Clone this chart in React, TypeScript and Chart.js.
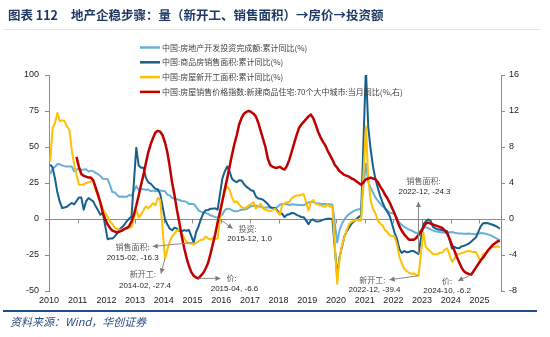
import React, { useEffect, useRef } from "react";
import { Chart, registerables } from "chart.js";

Chart.register(...registerables);

// ---------- data ----------
const YEARS = [2010, 2011, 2012, 2013, 2014, 2015, 2016, 2017, 2018, 2019, 2020, 2021, 2022, 2023, 2024, 2025];
const PRICE_YEARS = [2011, 2012, 2013, 2014, 2015, 2016, 2017, 2018, 2019, 2020, 2021, 2022, 2023, 2024, 2025];
const X_TICKS = [2010, 2011, 2012, 2013, 2014, 2015, 2016, 2017, 2018, 2019, 2020, 2021, 2022, 2023, 2024, 2025];
const LEFT_TICKS = [-50, -25, 0, 25, 50, 75, 100];
const RIGHT_TICKS = [-8, -4, 0, 4, 8, 12, 16];

const SERIES_NAMES = [
  "中国:房地产开发投资完成额:累计同比(%)",
  "中国:商品房销售面积:累计同比(%)",
  "中国:房屋新开工面积:累计同比(%)",
  "中国:房屋销售价格指数:新建商品住宅:70个大中城市:当月同比(%,右)",
];

// cumulative YoY, Feb..Dec of each year (2025: Feb..Oct)
const INVESTMENT = [
  [31.1, 35.1, 36.2, 38.2, 38.1, 37.2, 36.7, 36.4, 36.5, 36.5, 33.2],
  [35.2, 34.1, 34.3, 34.6, 32.9, 33.6, 33.2, 32.0, 31.1, 29.9, 27.9],
  [27.8, 23.5, 18.7, 18.5, 16.6, 15.4, 15.6, 15.4, 15.4, 16.7, 16.2],
  [22.8, 20.2, 21.1, 20.6, 20.3, 20.5, 19.3, 19.7, 19.2, 19.5, 19.8],
  [19.3, 16.8, 16.4, 14.7, 14.1, 13.7, 13.2, 12.5, 12.4, 11.9, 10.5],
  [10.4, 8.5, 6.0, 5.1, 4.6, 4.3, 3.5, 2.6, 2.0, 1.3, 1.0],
  [3.0, 6.2, 7.2, 7.0, 6.1, 5.3, 5.4, 5.8, 6.6, 6.5, 6.9],
  [8.9, 9.1, 9.3, 8.8, 8.5, 7.9, 7.9, 8.1, 7.8, 7.5, 7.0],
  [9.9, 10.4, 10.3, 10.2, 9.7, 10.2, 10.1, 9.9, 9.7, 9.7, 9.5],
  [11.6, 11.8, 11.9, 11.2, 10.9, 10.6, 10.5, 10.5, 10.3, 10.2, 9.9],
  [-16.3, -7.7, -3.3, -0.3, 1.9, 3.4, 4.6, 5.6, 6.3, 6.8, 7.0],
  [38.3, 25.6, 21.6, 18.3, 15.0, 12.7, 10.9, 8.8, 7.2, 6.0, 4.4],
  [3.7, 0.7, -2.7, -4.0, -5.4, -6.4, -7.4, -8.0, -8.8, -9.8, -10.0],
  [-5.7, -5.8, -6.2, -7.2, -7.9, -8.5, -8.8, -9.1, -9.3, -9.4, -9.6],
  [-9.0, -9.5, -9.8, -10.1, -10.1, -10.2, -10.2, -10.1, -10.3, -10.4, -10.6],
  [-9.8, -9.9, -10.3, -10.7, -11.2, -12.0, -12.9, -13.9, -14.7],
];

const SALES_AREA = [
  [37.7, 35.8, 28.1, 18.5, 12.0, 7.6, 8.0, 8.5, 9.9, 11.1, 10.1],
  [14.9, 14.9, 6.5, 12.2, 14.6, 13.4, 12.2, 8.8, 6.0, 3.0, 4.4],
  [-14.0, -13.6, -13.5, -12.1, -10.0, -7.1, -5.8, -4.0, -1.6, 0.2, 1.8],
  [49.5, 37.1, 35.6, 35.6, 28.7, 25.4, 24.6, 22.7, 20.9, 20.7, 17.3],
  [-0.1, -3.8, -6.7, -7.8, -6.0, -6.7, -8.3, -8.6, -7.7, -8.2, -7.6],
  [-16.3, -9.2, -5.3, -0.2, 3.9, 6.1, 6.2, 7.2, 7.2, 7.4, 6.5],
  [28.2, 33.1, 36.5, 33.2, 27.9, 26.4, 25.5, 26.9, 26.8, 24.3, 22.5],
  [20.0, 19.5, 15.7, 14.3, 14.0, 13.4, 12.0, 10.3, 8.2, 7.9, 7.7],
  [4.1, 3.6, 1.3, 2.9, 3.3, 4.2, 4.0, 2.9, 2.2, 1.4, 1.3],
  [-3.6, -0.9, -0.3, -1.6, -1.8, -1.3, -0.6, -0.1, 0.1, 0.2, -0.1],
  [-39.9, -26.3, -19.3, -12.3, -8.4, -5.8, -3.3, -1.8, 0.0, 1.3, 2.6],
  [104.9, 63.8, 48.1, 36.3, 27.7, 21.5, 15.9, 11.3, 7.6, 4.8, 1.9],
  [-9.6, -13.8, -20.9, -23.6, -22.2, -23.1, -23.0, -22.2, -22.3, -23.3, -24.3],
  [-3.6, -1.8, -0.4, -0.9, -5.3, -6.5, -7.1, -7.5, -7.8, -8.0, -8.5],
  [-20.5, -19.4, -20.2, -20.3, -19.0, -18.6, -18.0, -17.1, -15.8, -14.3, -12.9],
  [-5.1, -3.0, -2.8, -2.9, -3.5, -4.0, -4.7, -5.5, -6.8],
];

const NEW_STARTS = [
  [40.0, 63.0, 66.7, 73.6, 68.0, 68.5, 68.0, 64.3, 62.0, 48.0, 38.0],
  [24.0, 23.7, 24.0, 25.0, 25.5, 26.0, 26.7, 20.0, 15.7, 11.5, 7.0],
  [1.5, -1.5, -3.5, -6.0, -7.0, -7.4, -7.4, -7.2, -6.8, -6.3, -5.5],
  [6.5, 1.0, 3.0, 6.0, 8.8, 7.5, 9.0, 11.0, 9.5, 14.6, 13.5],
  [-27.4, -21.3, -15.5, -12.0, -10.0, -8.0, -7.4, -9.7, -13.0, -16.0, -16.7],
  [-17.8, -16.5, -15.5, -14.4, -14.4, -12.2, -13.5, -14.4, -13.0, -14.0, -13.5],
  [13.7, 19.2, 22.6, 20.3, 15.0, 11.6, 12.3, 10.0, 8.2, 7.6, 8.1],
  [10.4, 11.6, 7.2, 8.8, 10.6, 7.3, 6.4, 5.9, 5.6, 6.2, 7.0],
  [2.9, 9.7, 10.8, 11.8, 11.8, 14.4, 15.5, 16.4, 16.3, 16.8, 17.2],
  [6.0, 11.9, 13.1, 10.5, 10.1, 9.5, 8.9, 8.6, 10.0, 8.6, 8.5],
  [-44.9, -27.2, -18.4, -12.8, -7.6, -3.6, -1.9, -1.4, -0.4, -1.0, -1.2],
  [64.3, 28.2, 12.8, 6.9, 3.8, -0.9, -3.2, -4.5, -7.7, -9.1, -11.4],
  [-12.2, -17.5, -26.3, -30.6, -34.4, -36.1, -37.2, -38.0, -37.8, -38.9, -39.4],
  [-9.4, -19.2, -21.2, -22.6, -24.3, -24.5, -24.4, -23.4, -23.2, -21.2, -20.4],
  [-29.7, -27.8, -24.6, -24.2, -23.7, -23.2, -22.5, -22.2, -22.6, -23.0, -23.0],
  [-29.6, -24.4, -23.8, -22.8, -20.0, -19.4, -19.5, -18.9, -19.8],
];

// monthly YoY, Jan..Dec (2025: Jan..Oct), right axis
const PRICE = [
  [6.9, 5.8, 5.0, 4.8, 4.7, 4.6, 4.6, 4.3, 3.5, 2.7, 1.8, 0.7],
  [0.0, -0.6, -1.0, -1.3, -1.4, -1.5, -1.4, -1.3, -1.1, -1.0, -0.8, -0.3],
  [0.5, 1.5, 2.6, 3.8, 4.9, 6.2, 7.4, 8.3, 9.0, 9.6, 9.8, 9.7],
  [9.3, 8.5, 7.4, 5.8, 4.0, 2.6, 1.0, -0.4, -1.9, -3.2, -4.3, -5.2],
  [-5.9, -6.3, -6.5, -6.6, -6.3, -6.0, -5.5, -4.9, -3.9, -2.8, -1.7, -0.4],
  [0.8, 2.0, 3.3, 4.5, 5.8, 7.1, 8.3, 9.3, 10.5, 11.2, 11.7, 11.9],
  [12.0, 11.9, 11.7, 11.4, 10.7, 9.8, 8.9, 8.0, 6.7, 6.0, 5.8, 5.7],
  [5.7, 5.8, 5.6, 5.5, 5.9, 6.6, 7.5, 8.4, 9.3, 10.1, 10.5, 10.8],
  [11.1, 11.4, 11.6, 11.2, 10.5, 9.7, 9.1, 8.6, 8.2, 7.6, 7.1, 6.6],
  [6.0, 5.7, 5.3, 5.1, 4.9, 4.8, 4.7, 4.5, 4.4, 4.2, 4.0, 3.8],
  [4.1, 4.4, 4.5, 4.6, 4.5, 4.4, 4.1, 3.6, 3.2, 2.7, 2.3, 1.8],
  [1.2, 0.6, -0.1, -0.8, -1.3, -1.7, -2.0, -2.3, -2.3, -2.3, -2.1, -1.8],
  [-1.4, -1.0, -0.5, -0.4, -0.5, -0.6, -0.7, -0.8, -0.9, -1.0, -1.3, -1.6],
  [-2.2, -2.9, -3.5, -4.2, -4.8, -5.4, -5.8, -6.0, -6.1, -6.2, -5.8, -5.4],
  [-5.0, -4.6, -4.3, -3.9, -3.5, -3.2, -2.9, -2.7, -2.5, -2.4],
];

// annotations: [year, month], value, axis, name
const ANNOTATIONS = [
  { ym: [2015, 2], value: -16.3, axis: "y", name: "销售面积:", tip: [-41, 4], t1: [-3, 0, "right"], t2: [-20, 11] },
  { ym: [2014, 2], value: -27.4, axis: "y", name: "新开工:", tip: [-4, 15], t1: [-5, 0, "right"], t2: [-16, 12] },
  { ym: [2015, 4], value: -6.6, axis: "y1", name: "价:", tip: [22, 0], t1: [6, 0, "left"], t2: [14, 10] },
  { ym: [2015, 12], value: 1.0, axis: "y", name: "投资:", tip: [15, 11], t1: [6, 0, "left"], t2: [17, 10] },
  { ym: [2022, 12], value: -24.3, axis: "y", name: "销售面积:", tip: [0, -52], t1: [5, -21, "center"], t2: [6, -10] },
  { ym: [2022, 12], value: -39.4, axis: "y", name: "新开工:", tip: [-29, 4], t1: [-4, 0, "right"], t2: [-15, 10] },
  { ym: [2024, 10], value: -6.2, axis: "y1", name: "价:", tip: [-13, 6], t1: [-6, 0, "right"], t2: [-11, 10] },
];

// ---------- styles ----------
const COLORS = ["#6aafd6", "#17608c", "#ffc000", "#c00000"];
const CJK = "'Noto Sans CJK SC', sans-serif";
const LATIN = "'Liberation Sans', Arial, sans-serif";

const monthX = (year: number, month: number) => year + (month - 1.5) / 12;

function cumPoints(rows: number[][]) {
  const pts: { x: number; y: number }[] = [];
  rows.forEach((row, i) => row.forEach((v, j) => pts.push({ x: monthX(YEARS[i], j + 2), y: v })));
  return pts;
}
function pricePoints(rows: number[][]) {
  const pts: { x: number; y: number }[] = [];
  rows.forEach((row, i) => row.forEach((v, j) => pts.push({ x: monthX(PRICE_YEARS[i], j + 1), y: v })));
  return pts;
}

const decorPlugin = {
  id: "decor",
  beforeDraw(chart: any) {
    const ctx = chart.ctx;
    ctx.save();
    ctx.fillStyle = "#ffffff";
    ctx.fillRect(0, 0, chart.width, chart.height);
    ctx.restore();
  },
  beforeDatasetsDraw(chart: any) {
    const { ctx, chartArea, scales } = chart;
    const y0 = Math.round(scales.y.getPixelForValue(0)) + 0.5;
    ctx.save();
    ctx.strokeStyle = "#8c8c8c";
    ctx.lineWidth = 1;
    ctx.beginPath();
    ctx.moveTo(chartArea.left, y0);
    ctx.lineTo(chartArea.right, y0);
    X_TICKS.forEach((t) => {
      const x = Math.round(scales.x.getPixelForValue(t)) + 0.5;
      ctx.moveTo(x, y0);
      ctx.lineTo(x, y0 + 4);
    });
    ctx.stroke();
    // x labels
    ctx.fillStyle = "#222";
    ctx.font = `9px ${LATIN}`;
    ctx.textAlign = "center";
    ctx.textBaseline = "middle";
    X_TICKS.forEach((t) => {
      ctx.fillText(String(t), scales.x.getPixelForValue(t), chartArea.bottom + 10);
    });
    ctx.restore();
  },
  afterDatasetsDraw(chart: any) {
    const { ctx, scales } = chart;
    ctx.save();
    ANNOTATIONS.forEach((a: any) => {
      const px = scales.x.getPixelForValue(monthX(a.ym[0], a.ym[1]));
      const py = scales[a.axis].getPixelForValue(a.value);
      const tx = px + a.tip[0];
      const ty = py + a.tip[1];
      ctx.strokeStyle = "#8a8a8a";
      ctx.fillStyle = "#7a7a7a";
      ctx.lineWidth = 1;
      ctx.beginPath();
      ctx.moveTo(px, py);
      ctx.lineTo(tx, ty);
      ctx.stroke();
      const ang = Math.atan2(ty - py, tx - px);
      const L = 5, W = 2.6;
      ctx.beginPath();
      ctx.moveTo(tx, ty);
      ctx.lineTo(tx - L * Math.cos(ang) + W * Math.sin(ang), ty - L * Math.sin(ang) - W * Math.cos(ang));
      ctx.lineTo(tx - L * Math.cos(ang) - W * Math.sin(ang), ty - L * Math.sin(ang) + W * Math.cos(ang));
      ctx.closePath();
      ctx.fill();
      ctx.textBaseline = "middle";
      ctx.font = `8px ${CJK}`;
      ctx.fillStyle = "#595959";
      ctx.textAlign = a.t1[2];
      ctx.fillText(a.name, tx + a.t1[0], ty + a.t1[1]);
      const mm = String(a.ym[1]).padStart(2, "0");
      ctx.font = `8px ${LATIN}`;
      ctx.fillStyle = "#262626";
      ctx.textAlign = "center";
      ctx.fillText(`${a.ym[0]}-${mm}, ${a.value.toFixed(1)}`, tx + a.t2[0], ty + a.t2[1]);
    });
    ctx.restore();
  },
  afterDraw(chart: any) {
    const ctx = chart.ctx;
    ctx.save();
    // title
    ctx.textBaseline = "middle";
    ctx.textAlign = "left";
    ctx.fillStyle = "#1f3864";
    ctx.font = `bold 12.5px ${CJK}`;
    ctx.fillText("图表 112", 8, 15);
    ctx.fillText("地产企稳步骤：量（新开工、销售面积）→房价→投资额", 71, 15);
    // thin rule below title
    ctx.strokeStyle = "#e3e3e3";
    ctx.lineWidth = 1;
    ctx.beginPath();
    ctx.moveTo(4, 29.5);
    ctx.lineTo(540, 29.5);
    ctx.stroke();
    // legend
    const rowY = [47.5, 62.3, 77.1, 91.9];
    SERIES_NAMES.forEach((name, i) => {
      ctx.strokeStyle = COLORS[i];
      ctx.lineWidth = 2.5;
      ctx.beginPath();
      ctx.moveTo(140, rowY[i]);
      ctx.lineTo(160, rowY[i]);
      ctx.stroke();
      ctx.fillStyle = "#404040";
      ctx.font = `8px ${CJK}`;
      ctx.fillText(name, 162, rowY[i]);
    });
    // bottom rule
    ctx.strokeStyle = "#1f4e8c";
    ctx.lineWidth = 2;
    ctx.beginPath();
    ctx.moveTo(3, 311);
    ctx.lineTo(537, 311);
    ctx.stroke();
    // footer
    ctx.fillStyle = "#2f4f80";
    ctx.font = `italic 11px ${CJK}`;
    ctx.fillText("资料来源：Wind，华创证券", 10, 322);
    ctx.restore();
  },
};

export default function App() {
  const ref = useRef<HTMLCanvasElement | null>(null);

  useEffect(() => {
    if (!ref.current) return;
    const tickFont = { family: LATIN, size: 9 };
    const chart = new Chart(ref.current, {
      type: "line",
      data: {
        datasets: [
          { label: SERIES_NAMES[0], data: cumPoints(INVESTMENT), borderColor: COLORS[0], borderWidth: 2, pointRadius: 0, yAxisID: "y", order: 4 },
          { label: SERIES_NAMES[1], data: cumPoints(SALES_AREA), borderColor: COLORS[1], borderWidth: 2, pointRadius: 0, yAxisID: "y", order: 3 },
          { label: SERIES_NAMES[2], data: cumPoints(NEW_STARTS), borderColor: COLORS[2], borderWidth: 2, pointRadius: 0, yAxisID: "y", order: 2 },
          { label: SERIES_NAMES[3], data: pricePoints(PRICE), borderColor: COLORS[3], borderWidth: 2.5, pointRadius: 0, yAxisID: "y1", order: 1 },
        ],
      },
      options: {
        responsive: false,
        animation: false,
        devicePixelRatio: 1,
        layout: { padding: { top: 75, left: 0, right: 0, bottom: 0 } },
        plugins: { legend: { display: false }, tooltip: { enabled: false } },
        elements: { line: { tension: 0, borderJoinStyle: "round" } },
        scales: {
          x: {
            type: "linear",
            min: 2010,
            max: 2025.75,
            afterBuildTicks: (s: any) => { s.ticks = X_TICKS.map((v) => ({ value: v })); },
            afterFit: (s: any) => { s.height = 46; },
            grid: { display: false },
            border: { display: false },
            ticks: { display: false },
          },
          y: {
            position: "left",
            min: -50,
            max: 100,
            afterBuildTicks: (s: any) => { s.ticks = LEFT_TICKS.map((v) => ({ value: v })); },
            afterFit: (s: any) => { s.width = 49; },
            grid: { drawOnChartArea: false, drawTicks: true, tickLength: 4, color: "#8c8c8c" },
            border: { display: true, color: "#8c8c8c" },
            ticks: { padding: 6, font: tickFont, color: "#222" },
          },
          y1: {
            position: "right",
            min: -8,
            max: 16,
            afterBuildTicks: (s: any) => { s.ticks = RIGHT_TICKS.map((v) => ({ value: v })); },
            afterFit: (s: any) => { s.width = 49; },
            grid: { drawOnChartArea: false, drawTicks: true, tickLength: 4, color: "#8c8c8c" },
            border: { display: true, color: "#8c8c8c" },
            ticks: { padding: 4, font: tickFont, color: "#222" },
          },
        },
      } as any,
      plugins: [decorPlugin],
    });
    return () => chart.destroy();
  }, []);

  return (
    <div style={{ position: "absolute", left: 0, top: 0, width: 550, height: 337, background: "#fff" }}>
      <canvas ref={ref} width={550} height={337} style={{ width: 550, height: 337, display: "block" }} />
    </div>
  );
}
